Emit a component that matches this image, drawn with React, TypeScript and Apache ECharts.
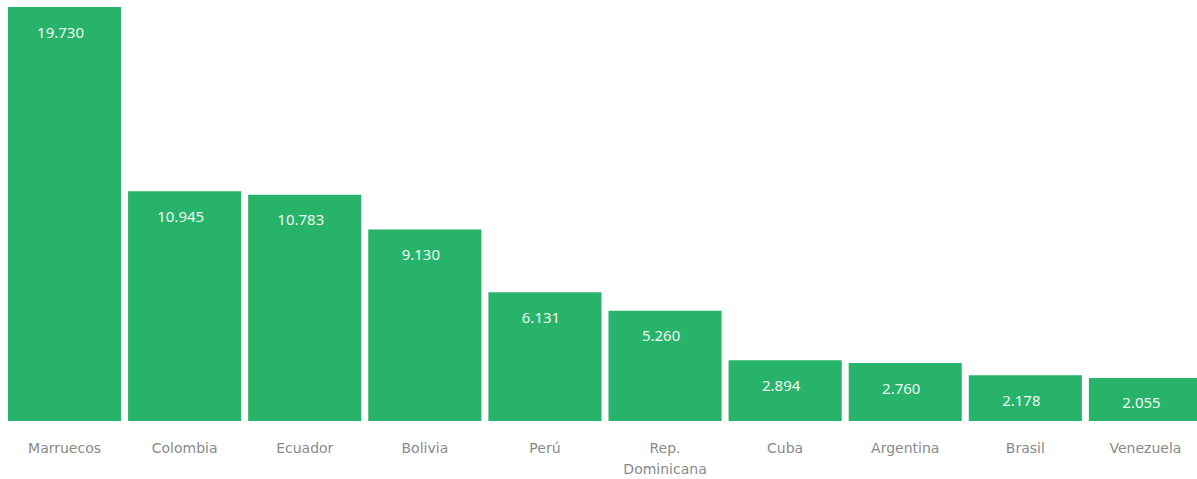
import React, { useEffect, useRef } from "react";
import * as echarts from "echarts";

const categories = ["Marruecos", "Colombia", "Ecuador", "Bolivia", "Perú", "Rep.\nDominicana", "Cuba", "Argentina", "Brasil", "Venezuela"];
const values = [19730, 10945, 10783, 9130, 6131, 5260, 2894, 2760, 2178, 2055];

const fmt = (v: number) => String(v).replace(/\B(?=(\d{3})+(?!\d))/g, ".");

export default function App() {
  const ref = useRef<HTMLDivElement>(null);
  useEffect(() => {
    if (!ref.current) return;
    const chart = echarts.init(ref.current, undefined, { renderer: "svg" });
    chart.setOption({
      animation: false,
      grid: { left: 4.5, top: 7, bottom: 56, width: 1201, containLabel: false },
      xAxis: {
        type: "category",
        data: categories,
        axisLine: { show: false },
        axisTick: { show: false },
        axisLabel: {
          color: "#8a8a8a",
          fontSize: 14,
          fontFamily: "DejaVu Sans",
          margin: 16,
          lineHeight: 21,
          interval: 0,
        },
      },
      yAxis: { type: "value", min: 0, max: 19730, show: false, splitLine: { show: false } },
      series: [
        {
          type: "bar",
          data: values,
          barCategoryGap: "5.8%",
          itemStyle: { color: "#27b36a" },
          label: {
            show: true,
            position: "insideTop",
            distance: 17,
            offset: [-4, 0],
            color: "#eef8f1",
            fontSize: 15,
            fontFamily: "Noto Sans",
            formatter: (p: any) => fmt(p.value),
          },
        },
      ],
    });
    return () => chart.dispose();
  }, []);
  return (
    <div style={{ position: "absolute", left: 0, top: 0, width: 1197, height: 479, overflow: "hidden" }}>
      <div ref={ref} style={{ width: 1210, height: 479 }} />
    </div>
  );
}
